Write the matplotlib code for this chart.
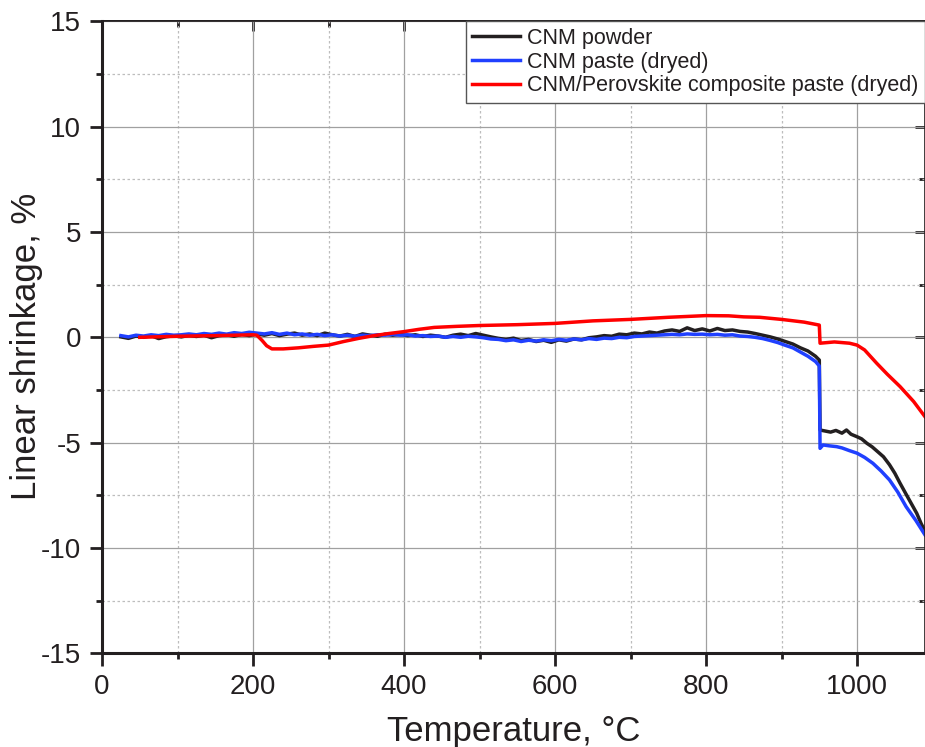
import numpy as np
import matplotlib.pyplot as plt
from matplotlib.ticker import MultipleLocator

plt.rcParams['font.family'] = ['Liberation Sans', 'DejaVu Sans']
plt.rcParams['axes.unicode_minus'] = False

# CNM powder
t_powder = [25, 35, 45, 55, 65, 75, 85, 95, 105, 115, 125, 135, 145, 155, 165, 175, 185, 195,
            205, 215, 225, 235, 245, 255, 265, 275, 285, 295, 305, 315, 325, 335, 345, 355,
            365, 375, 385, 395, 405, 415, 425, 435, 445, 455, 465, 475, 485, 495, 505, 515,
            525, 535, 545, 555, 565, 575, 585, 595, 605, 615, 625, 635, 645, 655, 665, 675,
            685, 695, 705, 715, 725, 735, 745, 755, 765, 775, 785, 795, 805, 815, 825, 835,
            845, 855, 865, 875, 885, 895, 905, 915, 925, 935, 945, 950,
            951, 958, 965, 972, 980, 986, 992, 1000, 1006, 1013, 1020, 1028, 1035, 1043,
            1050, 1057, 1065, 1072, 1079, 1085, 1090]
s_powder = [0.02, -0.05, 0.06, 0.0, 0.08, -0.06, 0.03, 0.07, 0.02, 0.09, 0.04, 0.1, -0.02, 0.08,
            0.12, 0.05, 0.14, 0.08, 0.16, 0.1, 0.18, 0.08, 0.15, 0.2, 0.1, 0.16, 0.08, 0.2,
            0.12, 0.06, 0.14, 0.04, 0.16, 0.1, 0.05, 0.15, 0.1, 0.14, 0.08, 0.12, 0.04, 0.1,
            0.06, 0.0, 0.1, 0.15, 0.08, 0.18, 0.1, 0.02, -0.05, -0.1, -0.04, -0.15, -0.1, -0.2,
            -0.14, -0.24, -0.12, -0.18, -0.08, -0.12, -0.02, 0.02, 0.08, 0.05, 0.15, 0.12, 0.2,
            0.16, 0.25, 0.2, 0.3, 0.35, 0.28, 0.45, 0.32, 0.4, 0.3, 0.42, 0.32, 0.35, 0.28,
            0.25, 0.18, 0.1, 0.02, -0.08, -0.2, -0.32, -0.5, -0.65, -0.9, -1.08,
            -4.4, -4.45, -4.5, -4.42, -4.55, -4.4, -4.6, -4.72, -4.82, -5.03, -5.2, -5.45,
            -5.67, -6.05, -6.45, -6.93, -7.45, -7.9, -8.35, -8.85, -9.2]

# CNM paste (dryed)
t_paste = [25, 35, 45, 55, 65, 75, 85, 95, 105, 115, 125, 135, 145, 155, 165, 175, 185, 195,
           205, 215, 225, 235, 245, 255, 265, 275, 285, 295, 305, 315, 325, 335, 345, 355,
           365, 375, 385, 395, 405, 415, 425, 435, 445, 455, 465, 475, 485, 495, 505, 515,
           525, 535, 545, 555, 565, 575, 585, 595, 605, 615, 625, 635, 645, 655, 665, 675,
           685, 695, 705, 715, 725, 735, 745, 755, 765, 775, 785, 795, 805, 815, 825, 835,
           845, 855, 865, 875, 885, 895, 905, 915, 925, 935, 945, 950,
           951, 955, 963, 973, 980, 990, 1000, 1010, 1021, 1032, 1043, 1054, 1065, 1078, 1090]
s_paste = [0.08, 0.02, 0.1, 0.06, 0.12, 0.08, 0.14, 0.1, 0.12, 0.16, 0.12, 0.18, 0.14, 0.2,
           0.15, 0.22, 0.18, 0.24, 0.2, 0.16, 0.22, 0.14, 0.2, 0.12, 0.16, 0.1, 0.14, 0.08,
           0.12, 0.06, 0.1, 0.05, 0.1, 0.08, 0.12, 0.1, 0.14, 0.1, 0.12, 0.06, 0.08, 0.04,
           0.06, 0.0, 0.04, 0.0, 0.05, 0.02, -0.02, -0.08, -0.1, -0.16, -0.12, -0.2, -0.14,
           -0.18, -0.12, -0.16, -0.1, -0.14, -0.08, -0.12, -0.06, -0.1, -0.04, -0.06, 0.0,
           -0.02, 0.04, 0.06, 0.08, 0.1, 0.12, 0.14, 0.12, 0.16, 0.14, 0.15, 0.12, 0.14, 0.1,
           0.12, 0.06, 0.04, 0.0, -0.06, -0.15, -0.25, -0.38, -0.5, -0.7, -0.9, -1.15, -1.36,
           -5.27, -5.11, -5.15, -5.19, -5.25, -5.38, -5.5, -5.7, -5.98, -6.35, -6.77, -7.35,
           -8.04, -8.7, -9.38]

# CNM/Perovskite composite paste (dryed)
t_comp = [50, 100, 150, 200, 205, 212, 218, 225, 240, 260, 280, 300, 320, 340, 360, 380, 400,
          420, 440, 470, 500, 550, 600, 650, 700, 750, 800, 830, 850, 871, 900, 930, 950,
          951, 970, 990, 1000, 1010, 1026, 1040, 1057, 1075, 1090]
s_comp = [0.0, 0.05, 0.08, 0.12, 0.1, -0.15, -0.4, -0.55, -0.55, -0.5, -0.43, -0.37, -0.2,
          -0.05, 0.08, 0.18, 0.27, 0.38, 0.47, 0.52, 0.56, 0.6, 0.66, 0.78, 0.85, 0.95, 1.03,
          1.02, 0.97, 0.95, 0.85, 0.72, 0.58, -0.28, -0.22, -0.28, -0.37, -0.6, -1.23, -1.75,
          -2.34, -3.05, -3.77]

dark = '#231f20'

fig = plt.figure(figsize=(9.25, 7.47), dpi=100)
ax = fig.add_axes([0.1103, 0.1254, 0.8897, 0.8461])

ax.plot(t_powder, s_powder, color=dark, lw=2.5, label='CNM powder')
ax.plot(t_paste, s_paste, color='#2040ff', lw=2.5, label='CNM paste (dryed)')
ax.plot(t_comp, s_comp, color='#ff0000', lw=2.5, label='CNM/Perovskite composite paste (dryed)')

ax.set_xlim(0, 1090)
ax.set_ylim(-15, 15)
ax.xaxis.set_major_locator(MultipleLocator(200))
ax.xaxis.set_minor_locator(MultipleLocator(100))
ax.yaxis.set_major_locator(MultipleLocator(5))
ax.yaxis.set_minor_locator(MultipleLocator(2.5))

ax.grid(which='major', color='#a0a0a0', lw=0.9, ls='-')
ax.grid(which='minor', color='#bdbdbd', lw=0.9, ls=(0, (2, 2)))
ax.set_axisbelow(True)

ax.tick_params(which='major', direction='out', length=9, width=2, labelsize=20,
               colors=dark, pad=6)
ax.tick_params(which='minor', direction='out', length=4.5, width=2, colors=dark)
for s in ['left', 'bottom']:
    ax.spines[s].set_linewidth(2.2)
    ax.spines[s].set_color(dark)
for s in ['top', 'right']:
    ax.spines[s].set_linewidth(1.2)
    ax.spines[s].set_color(dark)

top = ax.secondary_xaxis('top')
top.xaxis.set_major_locator(MultipleLocator(200))
top.xaxis.set_minor_locator(MultipleLocator(100))
top.tick_params(which='major', direction='in', length=7, width=2, labeltop=False, colors=dark)
top.tick_params(which='minor', direction='in', length=4, width=2, colors=dark)
top.spines['top'].set_linewidth(1.2)
right = ax.secondary_yaxis('right')
right.yaxis.set_major_locator(MultipleLocator(5))
right.yaxis.set_minor_locator(MultipleLocator(2.5))
right.tick_params(which='major', direction='in', length=7, width=2, labelright=False, colors=dark)
right.tick_params(which='minor', direction='in', length=4, width=2, colors=dark)

ax.set_xlabel('Temperature, °C', fontsize=25, color=dark, labelpad=11)
ax.set_ylabel('Linear shrinkage, %', fontsize=25, color=dark)
ax.yaxis.set_label_coords(-0.0717, 0.486)

leg = ax.legend(loc='upper right', bbox_to_anchor=(1.0, 1.0), borderaxespad=0, fontsize=15.5,
                fancybox=False, edgecolor='#555555', framealpha=1, handlelength=2.2,
                handletextpad=0.35, labelspacing=0.13, borderpad=0.3)
leg.get_frame().set_linewidth(1.0)
for txt in leg.get_texts():
    txt.set_color(dark)

fig.savefig('out.png', dpi=100)
